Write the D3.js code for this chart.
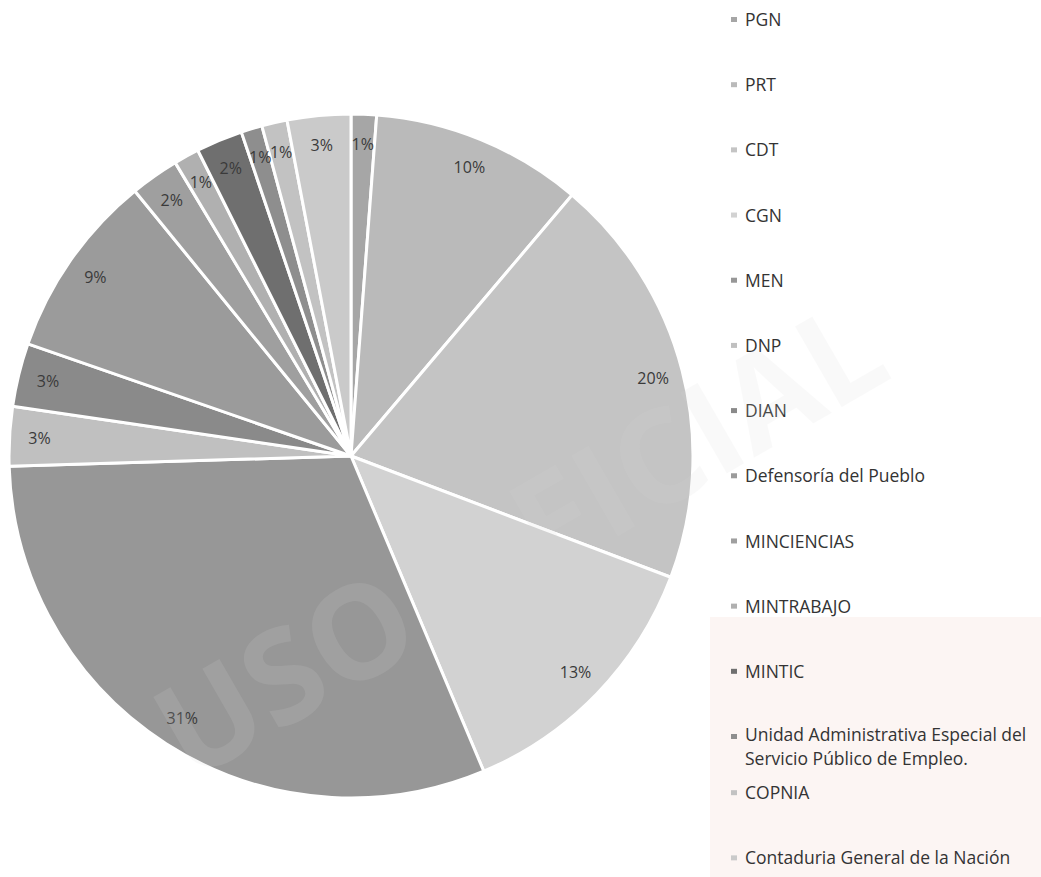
<!DOCTYPE html>
<html>
<head>
<meta charset="utf-8">
<script src="https://cdn.jsdelivr.net/npm/d3@7"></script>
<style>
  body { margin: 0; background: #fff; }
  svg { display: block; font-family: "Open Sans", sans-serif; }
</style>
</head>
<body>
<div id="chart"></div>
<script>
// entities, in clockwise order starting at 12 o'clock
const categories = [
  "PGN", "PRT", "CDT", "CGN", "MEN", "DNP", "DIAN",
  "Defensoría del Pueblo", "MINCIENCIAS", "MINTRABAJO", "MINTIC",
  "Unidad Administrativa Especial del Servicio Público de Empleo.",
  "COPNIA", "Contaduria General de la Nación"
];

// share of each slice (percent)
const shares = [1.2, 10.0, 19.6, 12.9, 30.9, 2.8, 3.0, 8.8, 2.3, 1.2, 2.2, 1.0, 1.2, 3.0];

// legend lines (the long name wraps on two lines)
const legendLines = [
  ["PGN"], ["PRT"], ["CDT"], ["CGN"], ["MEN"], ["DNP"], ["DIAN"],
  ["Defensoría del Pueblo"], ["MINCIENCIAS"], ["MINTRABAJO"], ["MINTIC"],
  ["Unidad Administrativa Especial del", "Servicio Público de Empleo."],
  ["COPNIA"], ["Contaduria General de la Nación"]
];

const greys = [
  "#a6a6a6", "#bababa", "#c4c4c4", "#d2d2d2", "#979797", "#c0c0c0", "#8a8a8a",
  "#9b9b9b", "#9f9f9f", "#b0b0b0", "#6f6f6f", "#8e8e8e", "#c2c2c2", "#cacaca"
];

const width = 1041, height = 877;
const cx = 351, cy = 456, radius = 342;

let svg = d3.select("#chart").append("svg")
    .attr("width", width)
    .attr("height", height);

// faint tinted patch from the scanned page
svg.append("rect")
    .attr("x", 710)
    .attr("y", 617)
    .attr("width", width - 710)
    .attr("height", height - 617)
    .attr("fill", "#fcf5f3");

let color = d3.scaleOrdinal().domain(categories).range(greys);

let pie = d3.pie()
    .sort(null)
    .value(function (d, i) { return shares[i]; });

let arcs = pie(categories);
let total = d3.sum(shares);

let arc = d3.arc().innerRadius(0).outerRadius(radius);
let labelArc = d3.arc().innerRadius(312).outerRadius(312);

let g = svg.append("g")
    .attr("transform", "translate(" + cx + "," + cy + ")");

g.selectAll("path.slice")
    .data(arcs)
    .enter().append("path")
    .attr("class", "slice")
    .attr("d", arc)
    .attr("fill", function (d) { return color(d.data); })
    .attr("stroke", "#fff")
    .attr("stroke-width", 3)
    .attr("stroke-linejoin", "round");

g.selectAll("text.pct")
    .data(arcs)
    .enter().append("text")
    .attr("class", "pct")
    .attr("transform", function (d) { return "translate(" + labelArc.centroid(d) + ")"; })
    .attr("text-anchor", "middle")
    .attr("dy", "0.35em")
    .attr("font-size", 16)
    .attr("fill", "#3a3a3a")
    .text(function (d) { return Math.round(d.value / total * 100) + "%"; });

// legend
let rowY = d3.scaleLinear().domain([0, 11]).range([20, 737]);
function legendY(i) {
    return i <= 11 ? rowY(i) : rowY(i) - 9;
}

let legend = svg.append("g").attr("class", "legend");

let item = legend.selectAll("g.item")
    .data(categories)
    .enter().append("g")
    .attr("class", "item")
    .attr("transform", function (d, i) { return "translate(731," + legendY(i) + ")"; });

item.append("rect")
    .attr("x", 0)
    .attr("y", -3)
    .attr("width", 6)
    .attr("height", 5)
    .attr("fill", function (d) { return color(d); });

item.append("text")
    .attr("x", 14)
    .attr("font-size", 17.5)
    .attr("fill", "#333")
    .selectAll("tspan")
    .data(function (d, i) { return legendLines[i]; })
    .enter().append("tspan")
    .attr("x", 14)
    .attr("y", function (d, j, nodes) { return nodes.length > 1 ? j * 24 - 2 : 0; })
    .attr("dy", "0.35em")
    .text(function (d) { return d; });

// faint "USO OFICIAL" stamp from the scan
svg.append("text")
    .attr("transform", "translate(520,540) rotate(-30)")
    .attr("text-anchor", "middle")
    .attr("dy", "0.35em")
    .attr("font-size", 130)
    .attr("font-weight", "bold")
    .attr("fill", "#d8d8d8")
    .attr("opacity", 0.14)
    .text("USO OFICIAL");
</script>
</body>
</html>
